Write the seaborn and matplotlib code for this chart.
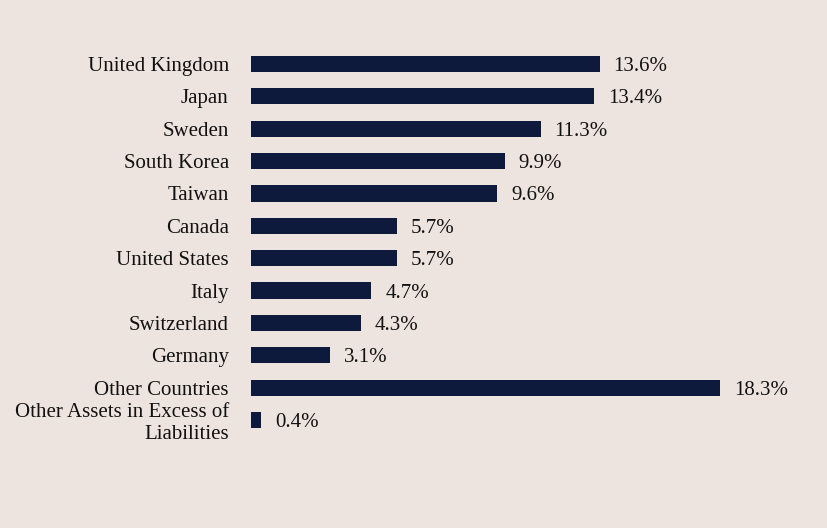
import numpy as np
import pandas as pd
from matplotlib import pyplot as plt
import seaborn as sns

countries = ["United Kingdom", "Japan", "Sweden", "South Korea", "Taiwan", "Canada",
             "United States", "Italy", "Switzerland", "Germany", "Other Countries",
             "Other Assets in Excess of\nLiabilities"]
weights = [13.6, 13.4, 11.3, 9.9, 9.6, 5.7, 5.7, 4.7, 4.3, 3.1, 18.3, 0.4]

bg = "#EEE4DF"
bar_color = "#0E1A3C"

sns.set_theme(style="white")
plt.rcParams["font.family"] = ["Liberation Serif", "DejaVu Serif"]

df = pd.DataFrame({"country": countries, "weight": weights})

fig = plt.figure(figsize=(8.28, 5.28), dpi=100, facecolor=bg)
ax = fig.add_axes([251 / 828, 0.1739, (720 - 251) / 828, 0.7356])
ax.set_facecolor(bg)

sns.barplot(data=df, x="weight", y="country", orient="h", color=bar_color,
            width=0.5, saturation=1, linewidth=0, ax=ax)

ax.set_xlim(0, 18.3)
ax.set_ylim(len(countries) - 0.5, -0.5)
for i, v in enumerate(weights):
    ax.annotate(f"{v:.1f}%", (v, i), xytext=(10, 0), textcoords="offset points",
                va="center_baseline", ha="left", fontsize=15, color="#111111",
                annotation_clip=False)

ax.set_xlabel("")
ax.set_ylabel("")
ax.set_xticks([])
ax.tick_params(axis="y", length=0, pad=16, labelsize=15, labelcolor="#111111")
for lbl in ax.get_yticklabels():
    lbl.set_linespacing(1.15)
sns.despine(ax=ax, left=True, bottom=True)

fig.savefig("out.png", dpi=100, facecolor=bg)
